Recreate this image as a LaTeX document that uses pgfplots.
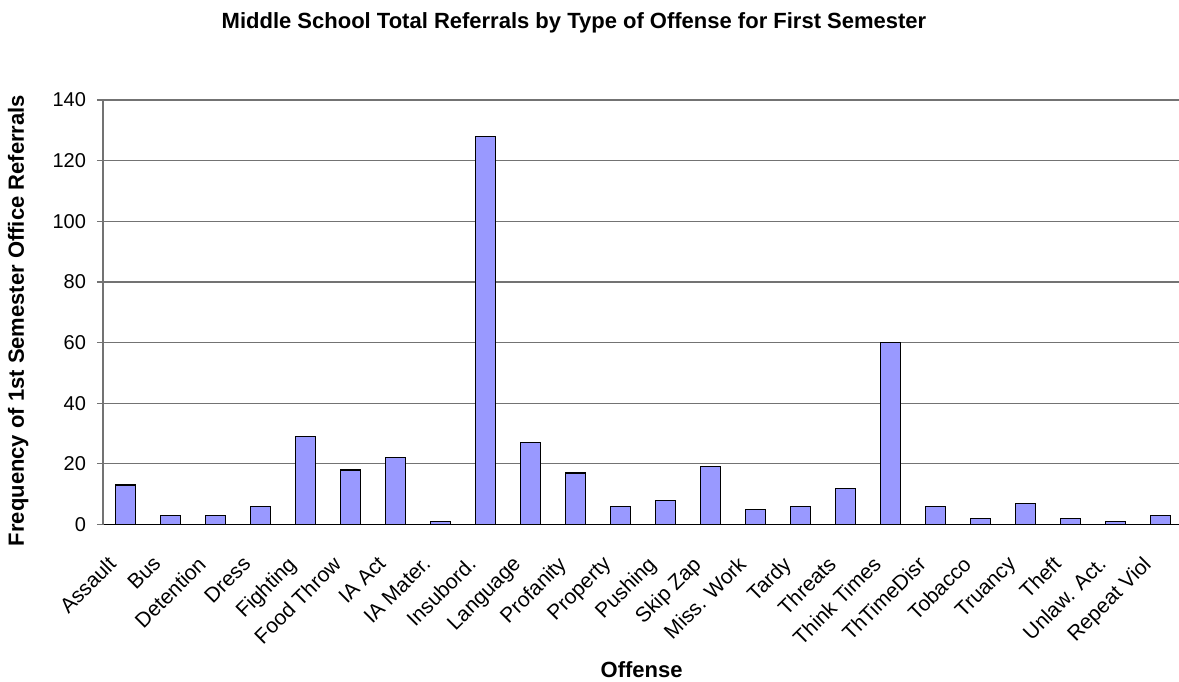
\documentclass[border=0pt]{standalone}
\usepackage{fontspec}
\setmainfont{Liberation Sans}
\usepackage{pgfplots}
\pgfplotsset{compat=1.18}
\definecolor{barblue}{RGB}{153,153,255}
\begin{document}
\begin{tikzpicture}
\useasboundingbox (0,0) rectangle (589.5pt,340.5pt);
\begin{axis}[
  at={(51.5pt,78.25pt)}, anchor=south west,
  scale only axis,
  width=540pt, height=212.25pt,
  xmin=-0.5, xmax=23.5,
  ymin=0, ymax=140,
  ytick={0,20,...,140},
  xtick={0,...,23},
  xticklabels={Assault,Bus,Detention,Dress,Fighting,Food Throw,IA Act,IA Mater.,Insubord.,Language,Profanity,Property,Pushing,Skip Zap,Miss. Work,Tardy,Threats,Think Times,ThTimeDisr,Tobacco,Truancy,Theft,Unlaw. Act.,Repeat Viol},
  x tick label style={xshift=-9.5pt, yshift=-12pt, rotate=45, anchor=north east, font=\fontsize{10.5}{11}\selectfont, inner sep=0pt},
  y tick label style={font=\fontsize{10}{11}\selectfont, xshift=-2pt},
  /pgf/number format/assume math mode=true,
  major x tick style={draw=none},
  extra x ticks={-0.5,0.5,...,23.5},
  extra x tick labels={},
  extra x tick style={major tick length=3pt, tick align=outside, tick style={draw=black, line width=0.5pt}, grid=none},
  ymajorgrids,
  grid style={draw=black!55, line width=0.6pt},
  axis x line*=bottom,
  axis y line*=left,
  axis line style={-, line width=0.6pt},
  x axis line style={black},
  y axis line style={black!55},
  ytick style={draw=black!55, line width=0.6pt},
  tick align=outside,
  major tick length=3pt,
  ybar, bar width=10pt,
  clip=false,
]
\addplot[fill=barblue, draw=black, line width=0.6pt] coordinates {
(0,13) (1,3) (2,3) (3,6) (4,29) (5,18) (6,22) (7,1) (8,128) (9,27) (10,17) (11,6)
(12,8) (13,19) (14,5) (15,6) (16,12) (17,60) (18,6) (19,2) (20,7) (21,2) (22,1) (23,3)
};
\end{axis}
\node[anchor=base, font=\bfseries\fontsize{11}{13}\selectfont] at (287pt,326.3pt) {Middle School Total Referrals by Type of Offense for First Semester};
\node[rotate=90, anchor=base, font=\bfseries\fontsize{11}{13}\selectfont] at (12pt,180.25pt) {Frequency of 1st Semester Office Referrals};
\node[anchor=base, font=\bfseries\fontsize{11}{13}\selectfont] at (320.8pt,1.65pt) {Offense};
\end{tikzpicture}
\end{document}
